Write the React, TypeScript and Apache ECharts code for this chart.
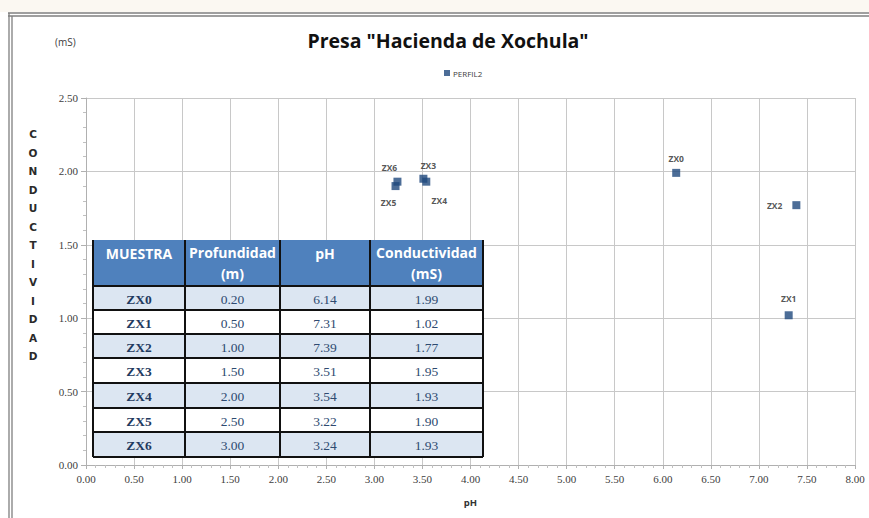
import React, { useEffect, useRef } from "react";
import * as echarts from "echarts";

const muestras = ["ZX0", "ZX1", "ZX2", "ZX3", "ZX4", "ZX5", "ZX6"];
const profundidad = [0.2, 0.5, 1.0, 1.5, 2.0, 2.5, 3.0];
const ph = [6.14, 7.31, 7.39, 3.51, 3.54, 3.22, 3.24];
const conductividad = [1.99, 1.02, 1.77, 1.95, 1.93, 1.9, 1.93];
const xTicks = { min: 0, max: 8, interval: 0.5 };
const yTicks = { min: 0, max: 2.5, interval: 0.5 };
const headers = ["MUESTRA", "Profundidad\n(m)", "pH", "Conductividad\n(mS)"];
const seriesName = "PERFIL2";
const yName = "CONDUCTIVIDAD";

const labelStyle: Record<string, any> = {
  ZX0: { position: "top", distance: 6 },
  ZX1: { position: "top", distance: 8 },
  ZX2: { position: "left", distance: 10 },
  ZX3: { position: "top", distance: 5, offset: [5, 0] },
  ZX4: { position: "bottom", distance: 10, offset: [13, 0] },
  ZX5: { position: "bottom", distance: 8, offset: [-7, 0] },
  ZX6: { position: "top", distance: 6, offset: [-8, 0] },
};

function buildTable() {
  const colX = [93, 185, 280, 370, 483];
  const rowY = [240, 286, 310, 334, 358, 383, 408, 432, 457];
  const els: any[] = [];
  els.push({ type: "rect", shape: { x: colX[0], y: rowY[0], width: colX[4] - colX[0], height: rowY[1] - rowY[0] }, style: { fill: "#4F81BD" }, z: 10 });
  for (let r = 0; r < muestras.length; r++) {
    els.push({
      type: "rect",
      shape: { x: colX[0], y: rowY[r + 1], width: colX[4] - colX[0], height: rowY[r + 2] - rowY[r + 1] },
      style: { fill: r % 2 === 0 ? "#DCE6F2" : "#FFFFFF" },
      z: 10,
    });
  }
  headers.forEach((h, c) => {
    els.push({
      type: "text",
      x: (colX[c] + colX[c + 1]) / 2,
      y: h.includes("\n") ? 263 : 253,
      style: {
        text: h,
        fill: "#FFFFFF",
        font: "bold 14px 'Open Sans', sans-serif",
        align: "center",
        verticalAlign: "middle",
        lineHeight: 21,
      } as any,
      z: 12,
    });
  });
  for (let r = 0; r < muestras.length; r++) {
    const vals = [muestras[r], profundidad[r].toFixed(2), ph[r].toFixed(2), conductividad[r].toFixed(2)];
    vals.forEach((v, c) => {
      els.push({
        type: "text",
        x: (colX[c] + colX[c + 1]) / 2,
        y: (rowY[r + 1] + rowY[r + 2]) / 2 + 1,
        style: {
          text: v,
          fill: c === 0 ? "#1F3A60" : "#2E4A70",
          font: (c === 0 ? "bold " : "") + "13.5px 'Liberation Serif', serif",
          align: "center",
          verticalAlign: "middle",
        } as any,
        z: 12,
      });
    });
  }
  const lineStyle = { stroke: "#111111", lineWidth: 2 };
  rowY.forEach((y, i) => {
    if (i === 0) return;
    els.push({ type: "line", shape: { x1: colX[0], y1: y, x2: colX[4], y2: y }, style: lineStyle, z: 13 });
  });
  colX.forEach((x) => {
    els.push({ type: "line", shape: { x1: x, y1: rowY[0], x2: x, y2: rowY[rowY.length - 1] }, style: lineStyle, z: 13 });
  });
  return els;
}

export default function App() {
  const ref = useRef<HTMLDivElement>(null);
  useEffect(() => {
    if (!ref.current) return;
    const chart = echarts.init(ref.current, undefined, { renderer: "svg" });
    const data = muestras.map((m, i) => ({
      name: m,
      value: [ph[i], conductividad[i]],
      label: labelStyle[m],
    }));
    const frame = { stroke: "#7F7F7F", lineWidth: 1.3 };
    const tickLabel = {
      formatter: (v: number) => v.toFixed(2),
      fontFamily: "'Liberation Serif', serif",
      fontSize: 11,
      color: "#404040",
      margin: 8,
    };
    chart.setOption({
      animation: false,
      backgroundColor: "#FFFFFF",
      title: {
        text: 'Presa "Hacienda de Xochula"',
        left: 443,
        textAlign: "center",
        top: 25,
        textStyle: { fontFamily: "'Open Sans', sans-serif", fontWeight: "bold", fontSize: 19.5, color: "#111111" },
      },
      legend: {
        data: [seriesName],
        left: 439,
        top: 64,
        itemWidth: 6,
        itemHeight: 6,
        itemGap: 2,
        textStyle: { fontSize: 8, color: "#404040", fontFamily: "'Open Sans', sans-serif", padding: [0, 0, 0, -2] },
        icon: "rect",
      },
      grid: { left: 86, right: 14, top: 98, bottom: 53, containLabel: false },
      xAxis: {
        type: "value",
        min: xTicks.min,
        max: xTicks.max,
        interval: xTicks.interval,
        name: "pH",
        nameLocation: "middle",
        nameGap: 32,
        nameTextStyle: { fontSize: 9.5, fontWeight: "bold", color: "#333333", fontFamily: "'Open Sans', sans-serif" },
        axisLine: { show: true, lineStyle: { color: "#B0B0B0" } },
        axisTick: { show: true, length: 4, lineStyle: { color: "#B0B0B0" } },
        minorTick: { show: true, splitNumber: 5, length: 3, lineStyle: { color: "#C0C0C0" } },
        axisLabel: tickLabel,
        splitLine: { show: true, lineStyle: { color: "#C8C8C8", width: 1 } },
      },
      yAxis: {
        type: "value",
        min: yTicks.min,
        max: yTicks.max,
        interval: yTicks.interval,
        axisLine: { show: true, lineStyle: { color: "#B0B0B0" } },
        axisTick: { show: true, length: 5, lineStyle: { color: "#B0B0B0" } },
        minorTick: { show: true, splitNumber: 5, length: 3, lineStyle: { color: "#C0C0C0" } },
        axisLabel: tickLabel,
        splitLine: { show: true, lineStyle: { color: "#C8C8C8", width: 1 } },
      },
      series: [
        {
          name: seriesName,
          type: "scatter",
          symbol: "rect",
          symbolSize: 8,
          itemStyle: { color: "#1F497D" },
          label: {
            show: true,
            formatter: "{b}",
            fontSize: 8.5,
            fontWeight: "bold",
            color: "#2A2A2A",
            fontFamily: "'Open Sans', sans-serif",
          },
          data,
          z: 5,
        },
      ],
      graphic: [
        { type: "rect", shape: { x: 0, y: 0, width: 869, height: 12 }, style: { fill: "#FBF8F2" }, silent: true },
        { type: "line", shape: { x1: 8, y1: 13, x2: 869, y2: 13 }, style: frame },
        { type: "line", shape: { x1: 8, y1: 16, x2: 869, y2: 16 }, style: frame },
        { type: "line", shape: { x1: 9, y1: 13, x2: 9, y2: 518 }, style: frame },
        { type: "line", shape: { x1: 12, y1: 16, x2: 12, y2: 518 }, style: frame },
        {
          type: "text",
          x: 55,
          y: 37,
          style: { text: "(mS)", font: "10px 'Open Sans', sans-serif", fill: "#404040" } as any,
        },
        {
          type: "text",
          x: 33,
          y: 125,
          style: {
            text: yName.split("").join("\n"),
            font: "bold 10.5px 'DejaVu Sans', sans-serif",
            fill: "#2A2A2A",
            align: "center",
            verticalAlign: "top",
            lineHeight: 18.5,
          } as any,
        },
        ...buildTable(),
      ],
    });
    return () => chart.dispose();
  }, []);
  return <div ref={ref} style={{ position: "fixed", left: 0, top: 0, width: 869, height: 518 }} />;
}
